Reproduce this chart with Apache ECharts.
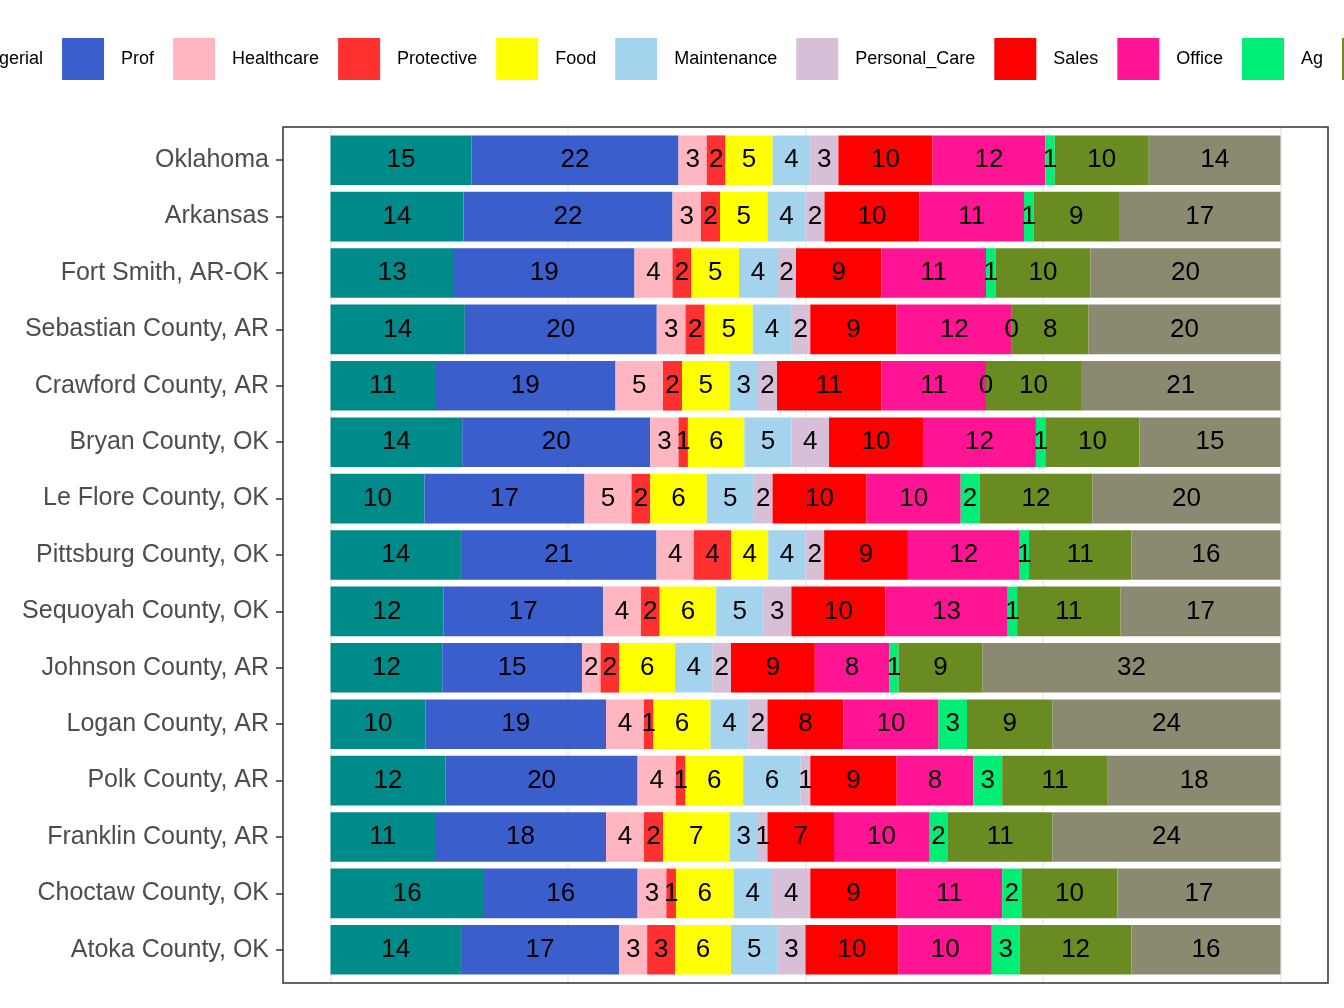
<!DOCTYPE html>
<html lang="en">
<head>
<meta charset="UTF-8">
<title>Occupations</title>
<script src="https://cdn.jsdelivr.net/npm/echarts@6/dist/echarts.min.js"></script>
<style>
  * { margin: 0; padding: 0; }
  #chart { width: 1344px; height: 1008px; background: #fff; }
</style>
</head>
<body>
<div id="chart"></div>
<script>
  var places = ['Oklahoma', 'Arkansas', 'Fort Smith, AR-OK', 'Sebastian County, AR', 'Crawford County, AR',
    'Bryan County, OK', 'Le Flore County, OK', 'Pittsburg County, OK', 'Sequoyah County, OK', 'Johnson County, AR',
    'Logan County, AR', 'Polk County, AR', 'Franklin County, AR', 'Choctaw County, OK', 'Atoka County, OK'];
  var groups = ['Managerial', 'Prof', 'Healthcare', 'Protective', 'Food', 'Maintenance', 'Personal_Care',
    'Sales', 'Office', 'Ag', 'Construction', 'Production'];
  var colors = ['#008B8B', '#3A5FCD', '#FFB6C1', '#FF3030', '#FFFF00', '#A4D3EE', '#D8BFD8',
    '#FF0000', '#FF1493', '#00EE76', '#698B22', '#8B8970'];
  var gridTicks = [0, 25, 50, 75, 100];
  // percent per place, in group order
  var Managerial   = [15, 14, 13, 14, 11, 14, 10, 14, 12, 12, 10, 12, 11, 16, 14];
  var Prof         = [22, 22, 19, 20, 19, 20, 17, 21, 17, 15, 19, 20, 18, 16, 17];
  var Healthcare   = [3, 3, 4, 3, 5, 3, 5, 4, 4, 2, 4, 4, 4, 3, 3];
  var Protective   = [2, 2, 2, 2, 2, 1, 2, 4, 2, 2, 1, 1, 2, 1, 3];
  var Food         = [5, 5, 5, 5, 5, 6, 6, 4, 6, 6, 6, 6, 7, 6, 6];
  var Maintenance  = [4, 4, 4, 4, 3, 5, 5, 4, 5, 4, 4, 6, 3, 4, 5];
  var PersonalCare = [3, 2, 2, 2, 2, 4, 2, 2, 3, 2, 2, 1, 1, 4, 3];
  var Sales        = [10, 10, 9, 9, 11, 10, 10, 9, 10, 9, 8, 9, 7, 9, 10];
  var Office       = [12, 11, 11, 12, 11, 12, 10, 12, 13, 8, 10, 8, 10, 11, 10];
  var Ag           = [1, 1, 1, 0, 0, 1, 2, 1, 1, 1, 3, 3, 2, 2, 3];
  var Construction = [10, 9, 10, 8, 10, 10, 12, 11, 11, 9, 9, 11, 11, 10, 12];
  var Production   = [14, 17, 20, 20, 21, 15, 20, 16, 17, 32, 24, 18, 24, 17, 16];
  var table = [Managerial, Prof, Healthcare, Protective, Food, Maintenance, PersonalCare,
    Sales, Office, Ag, Construction, Production];

  // row totals so every bar fills the full width
  var totals = places.map(function (p, i) {
    return table.reduce(function (s, col) { return s + col[i]; }, 0);
  });

  var series = groups.map(function (g, k) {
    return {
      name: g,
      type: 'bar',
      stack: 'all',
      barWidth: '88%',
      z: 3,
      itemStyle: { color: colors[k] },
      label: {
        show: true,
        color: '#000',
        fontSize: 26,
        fontFamily: 'Liberation Sans',
        formatter: function (p) { return table[k][p.dataIndex]; }
      },
      data: table[k].map(function (v, i) { return v / totals[i] * 100; })
    };
  });

  var chart = echarts.init(document.getElementById('chart'));
  chart.setOption({
    animation: false,
    legend: {
      data: groups,
      left: -110,
      top: 33,
      width: 3000,
      itemWidth: 42,
      itemHeight: 42,
      itemGap: 19,
      icon: 'rect',
      textStyle: { fontSize: 18, color: '#000', fontFamily: 'Liberation Sans', padding: [0, 0, 0, 12] }
    },
    graphic: [{
      type: 'rect', z: 10, silent: true,
      shape: { x: 283, y: 127, width: 1045, height: 856 },
      style: { fill: 'none', stroke: '#333', lineWidth: 1.5 }
    }],
    grid: [
      { left: 283, top: 132, width: 1045, height: 846 },
      { left: 330.5, top: 127, width: 950, height: 856, z: 0 }
    ],
    xAxis: [{
      type: 'value', min: -5, max: 105, gridIndex: 0,
      axisLabel: { show: false }, axisTick: { show: false }, axisLine: { show: false },
      splitLine: { show: false }
    }, {
      type: 'value', min: gridTicks[0], max: gridTicks[gridTicks.length - 1], interval: 25, gridIndex: 1,
      axisLabel: { show: false }, axisTick: { show: false }, axisLine: { show: false },
      splitLine: { show: true, lineStyle: { color: '#ebebeb', width: 1.5 } }
    }],
    yAxis: [{
      type: 'category', inverse: true, data: places, gridIndex: 0,
      axisLine: { show: false, onZero: false },
      axisTick: { show: true, length: 7, lineStyle: { color: '#333', width: 1.5 }, alignWithLabel: true },
      axisLabel: { fontSize: 25, color: '#4d4d4d', fontFamily: 'Liberation Sans', margin: 14 }
    }, {
      type: 'value', gridIndex: 1, show: false, splitLine: { show: false }
    }],
    series: series
  });
</script>
</body>
</html>
